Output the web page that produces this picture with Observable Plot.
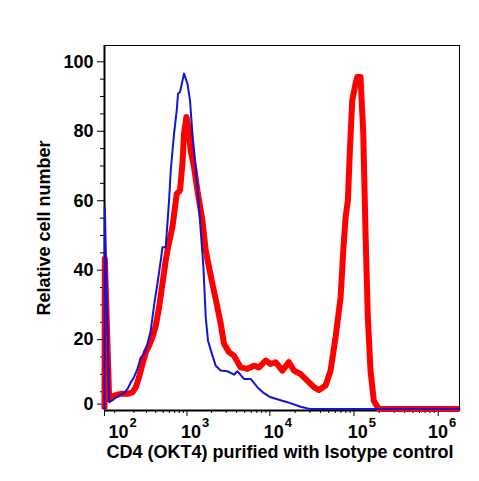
<!DOCTYPE html>
<html><head><meta charset="utf-8">
<script src="https://cdn.jsdelivr.net/npm/d3@7"></script>
<script src="https://cdn.jsdelivr.net/npm/@observablehq/plot@0.6"></script>
<style>
html,body{margin:0;padding:0;background:#fff;}
#chart svg{display:block;}
</style></head><body><div id="chart"></div>
<script>
// Isotype control histogram (blue)
const isotypeX = [65, 66, 80, 98, 126, 143, 161, 180, 201, 225, 251, 278, 310, 343, 362, 388, 421, 465, 489, 539, 595, 625, 688, 744, 772, 818, 918, 1012, 1089, 1165, 1280, 1366, 1474, 1590, 1696, 1808, 1989, 2243, 2577, 3103, 3724, 4091, 4908, 5902, 7098, 8503, 10222, 16150, 23240, 30550, 1790000];
const isotypeY = [0, 58, 2.0, 2.9, 4.2, 4.6, 5.8, 7.7, 9.2, 11.6, 14.9, 15.9, 18.8, 22.6, 26.5, 31.3, 36.1, 42.8, 46.6, 46.6, 60.1, 68.7, 79.3, 86.0, 90.8, 91.3, 96.6, 93.7, 88.9, 79.3, 69.7, 62.0, 51.4, 40.9, 26.5, 19.7, 16.4, 12.5, 11.1, 10.9, 9.9, 10.9, 8.7, 8.7, 6.3, 4.6, 3.4, 2.0, 0.7, 0, 0];

// CD4 (OKT4) purified histogram (red)
const cd4X = [65, 66, 80, 98, 126, 161, 191, 213, 237, 265, 294, 326, 362, 401, 442, 489, 539, 577, 656, 744, 818, 877, 918, 983, 1041, 1111, 1220, 1343, 1546, 1696, 1860, 2046, 2306, 2577, 2824, 3244, 3724, 4481, 5389, 6462, 7418, 8914, 10222, 11720, 14080, 16870, 19340, 23240, 27930, 33440, 38350, 46070, 52770, 60530, 69380, 74720, 79580, 84720, 89440, 95500, 104500, 109400, 119700, 129000, 137300, 146100, 157300, 172100, 197400, 1790000];
const cd4Y = [0, 43.3, 2.8, 3.9, 4.4, 4.4, 4.8, 6.3, 9.2, 13.0, 16.4, 18.3, 20.7, 24.1, 29.3, 36.1, 42.8, 46.6, 52.4, 62.0, 63.0, 70.7, 79.3, 84.1, 81.2, 74.5, 69.7, 63.0, 54.3, 45.7, 40.9, 36.1, 30.3, 24.6, 18.8, 16.4, 15.4, 12.0, 11.6, 12.5, 12.0, 14.0, 13.0, 13.5, 11.1, 13.5, 11.1, 10.1, 8.2, 6.3, 5.5, 6.8, 11.1, 20.7, 32.2, 45.7, 55.3, 60.1, 74.5, 88.9, 93.7, 95.6, 95.6, 79.3, 50.5, 26.5, 11.1, 2.4, 0, 0];

// Tick values and labels
const yMajorTicks = [20, 40, 60, 80, 100];
const yZeroTick = [0];
const yMinorTicks = [5, 10, 15, 25, 30, 35, 45, 50, 55, 65, 70, 75, 85, 90, 95];
const decadeTicks = [1e2, 1e3, 1e4, 1e5, 1e6];
const decadeExponents = ["2", "3", "4", "5", "6"];
const xMajorTicks = [1e3, 1e4, 1e5, 1e6];
const xMinorTicks = [100, 200, 300, 400, 500, 600, 700, 800, 900,
  2e3, 3e3, 4e3, 5e3, 6e3, 7e3, 8e3, 9e3,
  2e4, 3e4, 4e4, 5e4, 6e4, 7e4, 8e4, 9e4,
  2e5, 3e5, 4e5, 5e5, 6e5, 7e5, 8e5, 9e5];
const xTitle = "CD4 (OKT4) purified with Isotype control";
const yTitle = "Relative cell number";

const xDomain = [65, 1790000];
const yDomain = [-0.4, 104.7];

const isotype = isotypeX.map((x, i) => ({x, y: isotypeY[i]}));
const cd4 = cd4X.map((x, i) => ({x, y: cd4Y[i]}));
const decades = decadeTicks.map((v, i) => ({v, e: decadeExponents[i]}));
const decadesMain = decades.filter(d => d.v < 1e6);
const decadesLast = decades.filter(d => d.v >= 1e6);

const font = "'Liberation Sans', Arial, Helvetica, sans-serif";
const bold = {fontSize: 18, fontWeight: "bold"};

const chart = Plot.plot({
  width: 479,
  height: 481,
  marginLeft: 104,
  marginRight: 20,
  marginTop: 45,
  marginBottom: 71,
  style: {fontFamily: font, background: "#fff", color: "#000"},
  x: {type: "symlog", constant: 44.5, domain: xDomain, label: null},
  y: {domain: yDomain, label: null},
  marks: [
    Plot.frame({stroke: "#000", strokeWidth: 1}),
    Plot.axisY(yMinorTicks, {tickSize: 4, text: null, label: null}),
    Plot.axisY(yMajorTicks, {tickSize: 7, tickPadding: 4, label: null, ...bold}),
    Plot.axisY(yZeroTick, {tickSize: 7, tickPadding: 4, dy: -5, label: null, ...bold}),
    Plot.axisX(xMinorTicks, {tickSize: 3, text: null, label: null}),
    Plot.axisX([xDomain[0], ...xMajorTicks], {tickSize: 6, text: null, label: null}),
    Plot.ruleX([xDomain[0]], {stroke: "#000", strokeWidth: 2}),
    Plot.ruleY([yDomain[0]], {stroke: "#000", strokeWidth: 2}),
    Plot.line(cd4, {x: "x", y: "y", stroke: "#ff0000", strokeWidth: 6, strokeLinejoin: "round", strokeLinecap: "butt"}),
    Plot.line(isotype, {x: "x", y: "y", stroke: "#1414d2", strokeWidth: 2, strokeLinejoin: "round"}),
    Plot.text(decadesMain, {x: "v", y: () => yDomain[0], text: () => "10", dx: 8, dy: 22, className: "decade-main", ...bold}),
    Plot.text(decadesLast, {x: "v", y: () => yDomain[0], text: () => "10", dx: 4, dy: 22, className: "decade-last", ...bold}),
    Plot.text([xTitle], {frameAnchor: "bottom", text: d => d, dx: -2, dy: 47, ...bold}),
    Plot.text([yTitle], {frameAnchor: "left", textAnchor: "middle", text: d => d, rotate: -90, dx: -60, ...bold})
  ]
});

// Add exponents as superscript tspans inside each "10" label
function addExponents(cls, rows) {
  d3.select(chart).selectAll(`g.${cls} text`).each(function(_, i) {
    d3.select(this).append("tspan")
      .attr("dx", 1)
      .attr("dy", -11)
      .attr("font-size", 13)
      .text(rows[i].e);
  });
}
addExponents("decade-main", decadesMain);
addExponents("decade-last", decadesLast);

document.getElementById("chart").appendChild(chart);
</script>
</body></html>
